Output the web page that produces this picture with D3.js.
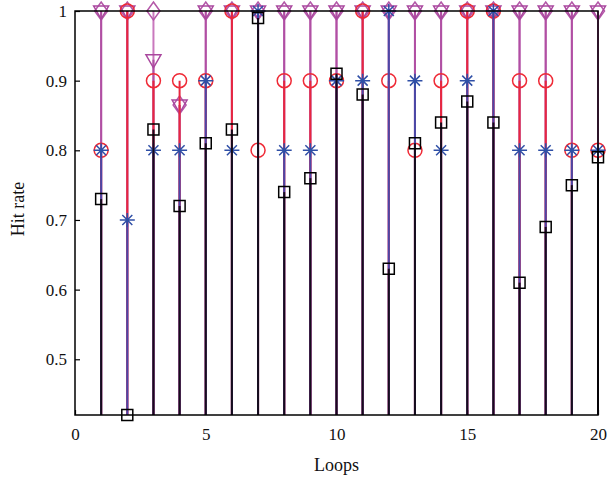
<!DOCTYPE html>
<html>
<head>
<meta charset="utf-8">
<script src="https://cdn.jsdelivr.net/npm/d3@7"></script>
<style>
  body { margin: 0; background: #fff; }
  svg { display: block; }
  text { font-family: "Liberation Serif", "DejaVu Serif", serif; fill: #111; }
</style>
</head>
<body>
<svg id="chart" width="610" height="480"></svg>
<script>
const loops = [1, 2, 3, 4, 5, 6, 7, 8, 9, 10, 11, 12, 13, 14, 15, 16, 17, 18, 19, 20];
const diamondVals = [1, 1, 1, 0.865, 1, 1, 1, 1, 1, 1, 1, 1, 1, 1, 1, 1, 1, 1, 1, 1];
const triangleVals = [1, 1, 0.93, 0.865, 1, 1, 1, 1, 1, 1, 1, 1, 1, 1, 1, 1, 1, 1, 1, 1];
const circleVals = [0.8, 1, 0.9, 0.9, 0.9, 1, 0.8, 0.9, 0.9, 0.9, 1, 0.9, 0.8, 0.9, 1, 1, 0.9, 0.9, 0.8, 0.8];
const starVals = [0.8, 0.7, 0.8, 0.8, 0.9, 0.8, 1, 0.8, 0.8, 0.9, 0.9, 1, 0.9, 0.8, 0.9, 1, 0.8, 0.8, 0.8, 0.8];
const squareVals = [0.73, 0.42, 0.83, 0.72, 0.81, 0.83, 0.99, 0.74, 0.76, 0.91, 0.88, 0.63, 0.81, 0.84, 0.87, 0.84, 0.61, 0.69, 0.75, 0.79];
const xTicks = [0, 5, 10, 15, 20];
const yTicks = [0.5, 0.6, 0.7, 0.8, 0.9, 1];

const W = 610, H = 480;
const margin = { top: 11, right: 12, bottom: 65, left: 75 };
const svg = d3.select('#chart');

const x = d3.scaleLinear().domain([0, 20]).range([margin.left, W - margin.right]);
const y = d3.scaleLinear().domain([0.42, 1]).range([H - margin.bottom, margin.top]);
const yBase = 0.42;

// marker shapes, drawn around (0,0)
const shapes = {
  diamond: 'M0,-9L6.5,0L0,9L-6.5,0Z',
  triangle: 'M-7.5,-5L7.5,-5L0,8Z',
  circle: d3.arc()({ innerRadius: 0, outerRadius: 7, startAngle: 0, endAngle: 2 * Math.PI }),
  star: 'M-7.5,0L7.5,0M0,-7L0,7M-5,-5L5,5M-5,5L5,-5',
  square: 'M-5.5,-5.5H5.5V5.5H-5.5Z'
};

const series = [
  { name: 'diamond', values: diamondVals, stem: '#c978bd', mark: '#b458a8' },
  { name: 'triangle', values: triangleVals, stem: '#b04fa3', mark: '#a9479e' },
  { name: 'circle', values: circleVals, stem: '#e8263f', mark: '#ef2a36' },
  { name: 'star', values: starVals, stem: '#4a48a6', mark: '#2f4fa6' },
  { name: 'square', values: squareVals, stem: '#160c1c', mark: '#000' }
];

// axes
const gx = svg.append('g')
  .attr('transform', `translate(0,${y(yBase)})`)
  .call(d3.axisBottom(x).tickValues(xTicks).tickSizeInner(-5).tickSizeOuter(0).tickPadding(10).tickFormat(d3.format('d')));
const gy = svg.append('g')
  .attr('transform', `translate(${x(0)},0)`)
  .call(d3.axisLeft(y).tickValues(yTicks).tickSizeInner(-5).tickSizeOuter(0).tickPadding(8).tickFormat(d => d === 1 ? '1' : d3.format('.1f')(d)));
[gx, gy].forEach(g => {
  g.select('.domain').remove();
  g.selectAll('line').attr('stroke', '#000').attr('stroke-width', 1.2);
  g.selectAll('text').style('font-size', '17px').style('font-family', '"Liberation Serif", serif').attr('fill', '#111');
});
gx.selectAll('text').attr('dy', '0.9em');

// stems + markers
series.forEach(s => {
  const g = svg.append('g').attr('class', 'series-' + s.name);
  g.selectAll('line')
    .data(loops)
    .join('line')
    .attr('x1', d => x(d)).attr('x2', d => x(d))
    .attr('y1', y(yBase)).attr('y2', (d, i) => y(s.values[i]))
    .attr('stroke', s.stem)
    .attr('stroke-width', 2);
  g.selectAll('path')
    .data(loops)
    .join('path')
    .attr('transform', (d, i) => `translate(${x(d)},${y(s.values[i])})`)
    .attr('d', shapes[s.name])
    .attr('fill', 'none')
    .attr('stroke', s.mark)
    .attr('stroke-width', 1.5);
});

// frame
svg.append('rect')
  .attr('x', x(0)).attr('y', y(1))
  .attr('width', x(20) - x(0)).attr('height', y(yBase) - y(1))
  .attr('fill', 'none').attr('stroke', '#000').attr('stroke-width', 1.5);

// labels
svg.append('text')
  .attr('x', (x(0) + x(20)) / 2).attr('y', 471)
  .attr('text-anchor', 'middle')
  .style('font-size', '18px')
  .text('Loops');
svg.append('text')
  .attr('transform', `translate(24,${(y(1) + y(yBase)) / 2 - 4}) rotate(-90)`)
  .attr('text-anchor', 'middle')
  .style('font-size', '18px')
  .text('Hit rate');
</script>
</body>
</html>
